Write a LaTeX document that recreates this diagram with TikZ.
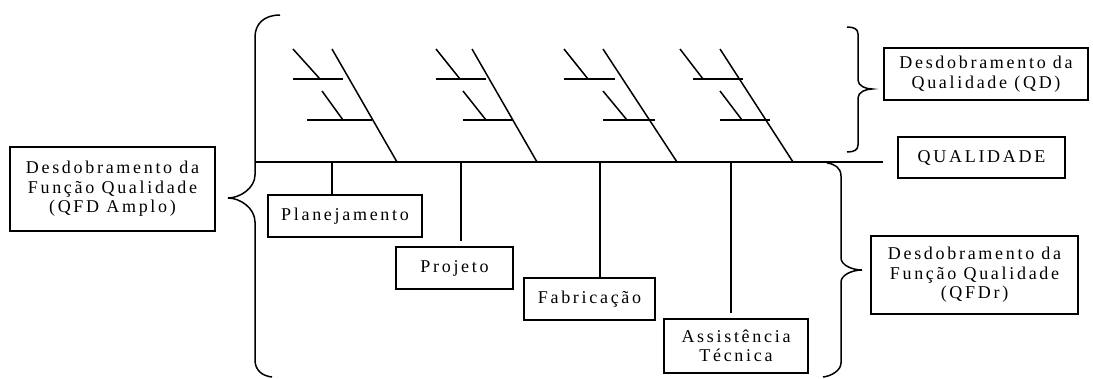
\documentclass[tikz,border=0pt]{standalone}
\usepackage{fontspec}
\setmainfont{Liberation Serif}[LetterSpace=15]
\begin{document}
\begin{tikzpicture}[x=1pt,y=-1pt,
  line width=1.5pt, line cap=butt,
  box/.style={draw, line width=1.5pt, inner sep=0pt, align=center,
    font=\fontsize{18}{19.5}\selectfont},
  brace/.style={line width=1.5pt},
  bone/.style={line width=1.5pt}]
\useasboundingbox (0,0) rectangle (1093,378);

% boxes
\node[box, minimum width=205pt, minimum height=84pt] (amplo) at (112.5,189)
  {Desdobramento da\\Função Qualidade\\(QFD Amplo)};
\node[box, minimum width=154pt, minimum height=42pt] (plan) at (345,216) {Planejamento};
\node[box, minimum width=117pt, minimum height=42pt] (proj) at (454.5,268) {Projeto};
\node[box, minimum width=131pt, minimum height=42pt] (fab) at (589.5,299) {Fabricação};
\node[box, minimum width=144pt, minimum height=54pt] (assist) at (736,346)
  {Assistência\\Técnica};
\node[box, minimum width=204pt, minimum height=52pt] (qd) at (986,74)
  {Desdobramento da\\Qualidade (QD)};
\node[box, minimum width=167pt, minimum height=41pt] (qual) at (981.5,157.5) {QUALIDADE};
\node[box, minimum width=207pt, minimum height=78pt] (qfdr) at (974.5,275)
  {Desdobramento da\\Função Qualidade\\(QFDr)};

% spine
\coordinate (s0) at (255,162);
\coordinate (s5) at (883,162);
\draw (s0) -- (s5);

% connectors from the spine down to the stages
\coordinate (s1) at (332,162);
\coordinate (s2) at (461,162);
\coordinate (s3) at (600,162);
\coordinate (s4) at (731,162);
\draw (s1) -- (s1 |- plan.north);
\draw[shorten >=5pt] (s2) -- (s2 |- proj.north);
\draw (s3) -- (s3 |- fab.north);
\draw[shorten >=5pt] (s4) -- (s4 |- assist.north);

% fishbone ribs above the spine
\draw[bone] (332,49) -- (397,162);
\draw[bone] (293,79) -- (343,79);
\draw[bone] (293,49) -- (320,79);
\draw[bone] (307,120) -- (372,120);
\draw[bone] (322,91) -- (343,120);

\draw[bone] (472,49) -- (537,162);
\draw[bone] (436,79) -- (486,79);
\draw[bone] (436,49) -- (460,79);
\draw[bone] (463,120) -- (513,120);
\draw[bone] (463,91) -- (486,120);

\draw[bone] (603,49) -- (677,162);
\draw[bone] (564,79) -- (615,79);
\draw[bone] (564,49) -- (588,79);
\draw[bone] (603,120) -- (655,120);
\draw[bone] (603,91) -- (627,120);

\draw[bone] (720,49) -- (793,162);
\draw[bone] (693,79) -- (743,79);
\draw[bone] (680,49) -- (703,79);
\draw[bone] (720,120) -- (770,120);
\draw[bone] (720,91) -- (742,120);

% braces
\draw[brace] (280,15) .. controls (264,15) and (255,24) .. (255,37) -- (255,175)
  .. controls (255,188) and (240,198) .. (228,198)
  .. controls (240,198) and (255,208) .. (255,222) -- (255,360)
  .. controls (255,370) and (262,376) .. (272,377);
\draw[brace] (847,27) .. controls (854,27) and (858,29) .. (858,34) -- (858,80)
  .. controls (858,86) and (866,89) .. (872,89)
  .. controls (866,89) and (858,92) .. (858,98) -- (858,145)
  .. controls (858,150) and (854,152) .. (847,152);
\draw[brace] (827,163) .. controls (835,164) and (841,168) .. (841,176) -- (841,258)
  .. controls (841,265) and (852,270) .. (862,270)
  .. controls (852,270) and (841,275) .. (841,282) -- (841,363)
  .. controls (841,370) and (832,376) .. (823,377);
\end{tikzpicture}
\end{document}
